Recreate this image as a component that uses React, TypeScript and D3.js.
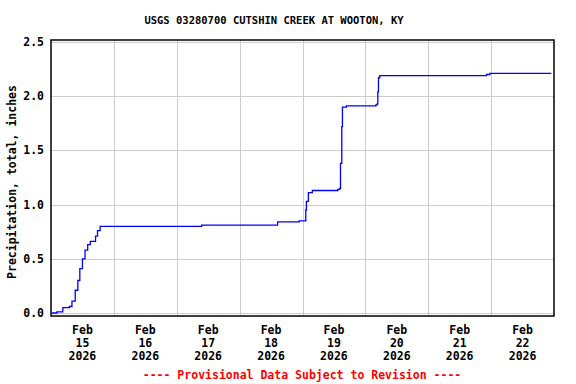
import React from "react";
import * as d3 from "d3";

const title = "USGS 03280700 CUTSHIN CREEK AT WOOTON, KY";
const yLabel = "Precipitation, total, inches";
const note = "---- Provisional Data Subject to Revision ----";

// time (local), cumulative precip (inches) - value holds from that time on
const times = [
  "2026-02-15T00:15", "2026-02-15T02:15", "2026-02-15T04:30", "2026-02-15T07:00",
  "2026-02-15T08:00", "2026-02-15T09:15", "2026-02-15T10:15", "2026-02-15T11:00",
  "2026-02-15T12:00", "2026-02-15T13:00", "2026-02-15T14:00", "2026-02-15T15:00",
  "2026-02-15T17:00", "2026-02-15T17:45", "2026-02-15T18:45", "2026-02-17T09:30",
  "2026-02-18T14:30", "2026-02-18T22:45", "2026-02-19T01:15", "2026-02-19T01:30",
  "2026-02-19T02:15", "2026-02-19T03:45", "2026-02-19T13:30", "2026-02-19T14:15",
  "2026-02-19T14:30", "2026-02-19T15:00", "2026-02-19T15:15", "2026-02-19T16:45",
  "2026-02-20T04:00", "2026-02-20T04:30", "2026-02-20T04:45", "2026-02-20T05:00",
  "2026-02-20T05:30", "2026-02-21T22:15", "2026-02-21T23:30", "2026-02-22T23:00",
];
const values = [
  0.0, 0.01, 0.05, 0.06,
  0.11, 0.21, 0.3, 0.41,
  0.5, 0.58, 0.63, 0.66,
  0.71, 0.76, 0.8, 0.81,
  0.84, 0.85, 0.95, 1.03,
  1.11, 1.13, 1.14, 1.15,
  1.38, 1.72, 1.9, 1.91,
  1.92, 1.93, 2.04, 2.17,
  2.19, 2.2, 2.21, 2.21,
];

const yTicks = [0, 0.5, 1.0, 1.5, 2.0, 2.5];
const dayTicks = [
  "2026-02-15", "2026-02-16", "2026-02-17", "2026-02-18",
  "2026-02-19", "2026-02-20", "2026-02-21", "2026-02-22",
];

const W = 576;
const H = 384;
const left = 51, right = 554, top = 40, bottom = 316;
const font = "'DejaVu Sans Mono', monospace";

export default function App() {
  const parse = d3.timeParse("%Y-%m-%dT%H:%M");
  const parseDay = d3.timeParse("%Y-%m-%d");
  const data = times.map((t, i) => ({ t: parse(t) as Date, v: values[i] }));

  const x = d3.scaleTime()
    .domain([parseDay("2026-02-15") as Date, parseDay("2026-02-23") as Date])
    .range([left, right]);
  const y = d3.scaleLinear().domain([0, 2.5]).range([313, 42]);

  const line = d3.line<{ t: Date; v: number }>()
    .x(d => x(d.t))
    .y(d => y(d.v))
    .curve(d3.curveStepAfter);

  const days = dayTicks.map(d => parseDay(d) as Date);

  return (
    <svg width={W} height={H} style={{ position: "absolute", left: 0, top: 0 }}>
      <rect width={W} height={H} fill="#fff" />
      <text x={274} y={24} textAnchor="middle" fontFamily={font} fontWeight="bold" fontSize={10.5}>
        {title}
      </text>

      {/* grid */}
      {yTicks.map(t => (
        <line key={"gy" + t} x1={left} x2={right} y1={Math.round(y(t)) + 0.5} y2={Math.round(y(t)) + 0.5}
          stroke="#cccccc" strokeWidth={1} />
      ))}
      {days.slice(1).map((d, i) => (
        <line key={"gx" + i} x1={Math.round(x(d)) + 0.5} x2={Math.round(x(d)) + 0.5} y1={top} y2={bottom}
          stroke="#cccccc" strokeWidth={1} />
      ))}

      <path d={line(data) ?? ""} fill="none" stroke="#0000ff" strokeWidth={1.3} />

      <rect x={left} y={top} width={right - left} height={bottom - top} fill="none" stroke="#000" strokeWidth={1.5} />

      {/* y ticks */}
      {yTicks.map(t => (
        <text key={"yt" + t} x={44} y={y(t) + 4} textAnchor="end" fontFamily={font} fontWeight="bold" fontSize={11.5}>
          {d3.format(".1f")(t)}
        </text>
      ))}
      <text transform={`translate(16,${(top + bottom) / 2 + 4}) rotate(-90)`} textAnchor="middle"
        fontFamily={font} fontWeight="bold" fontSize={11.5}>
        {yLabel}
      </text>

      {/* x ticks: labels centered at noon */}
      {days.map((d, i) => {
        const cx = x(d3.timeHour.offset(d, 12));
        return (
          <g key={"xt" + i} fontFamily={font} fontWeight="bold" fontSize={11.5} textAnchor="middle">
            <text x={cx} y={334}>{d3.timeFormat("%b")(d)}</text>
            <text x={cx} y={347}>{d3.timeFormat("%d")(d)}</text>
            <text x={cx} y={360}>{d3.timeFormat("%Y")(d)}</text>
          </g>
        );
      })}

      <text x={302} y={379} textAnchor="middle" fontFamily={font} fontWeight="bold" fontSize={11.5} fill="#ff0000">
        {note}
      </text>
    </svg>
  );
}
